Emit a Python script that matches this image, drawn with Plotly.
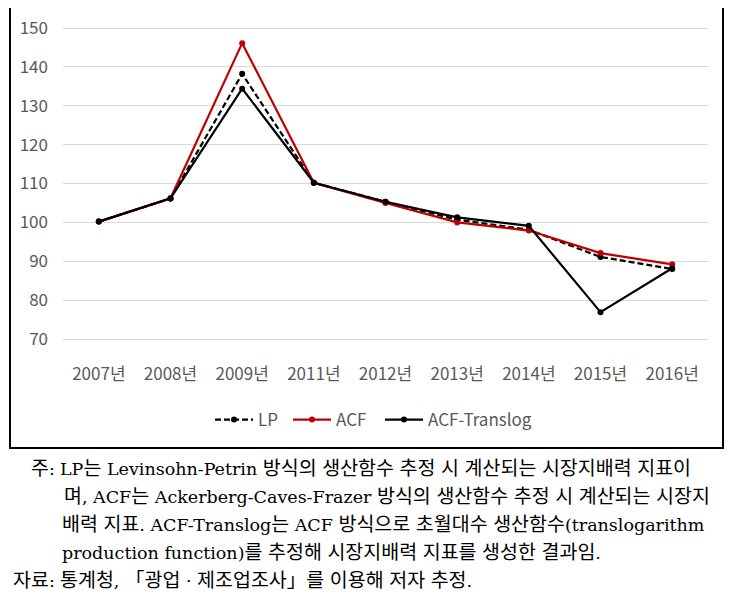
import re
import plotly.graph_objects as go

years = ["2007년", "2008년", "2009년", "2011년", "2012년", "2013년", "2014년", "2015년", "2016년"]
lp = [100.2, 106.1, 138.2, 110.2, 105.3, 100.7, 98.1, 91.1, 88.0]
acf = [100.2, 106.2, 146.1, 110.2, 105.0, 100.0, 97.9, 92.1, 89.2]
translog = [100.2, 106.2, 134.4, 110.2, 105.3, 101.3, 99.1, 76.9, 88.2]
y_ticks = [70, 80, 90, 100, 110, 120, 130, 140, 150]

note_label = "주:"
note_lines = [
    "LP는 Levinsohn-Petrin 방식의 생산함수 추정 시 계산되는 시장지배력 지표이",
    "며, ACF는 Ackerberg-Caves-Frazer 방식의 생산함수 추정 시 계산되는 시장지",
    "배력 지표. ACF-Translog는 ACF 방식으로 초월대수 생산함수(translogarithm",
    "production function)를 추정해 시장지배력 지표를 생성한 결과임.",
]
source_label = "자료:"
source_text = "통계청, 「광업 · 제조업조사」를 이용해 저자 추정."

OFF = 8  # page body margin
WIN_W, WIN_H = 735, 605
W, H = WIN_W - OFF, WIN_H - OFF
# plot area in window pixel coordinates
PL, PR, PT, PB = 63, 708, 18, 362
ML, MR, MT, MB = PL - OFF, W - (PR - OFF), PT - OFF, H - (PB - OFF)
PW, PH = PR - PL, PB - PT


def px(x):
    return (x - PL) / PW


def py(y):
    return (PB - y) / PH


GRAY = "#595959"
FONT = "Noto Sans CJK KR, Noto Sans, sans-serif"

fig = go.Figure()
fig.add_trace(go.Scatter(x=years, y=lp, name="LP", mode="lines+markers", legend="legend",
                         line=dict(color="black", width=2.2, dash="6px,3px"),
                         marker=dict(size=6, color="black")))
fig.add_trace(go.Scatter(x=years, y=acf, name="ACF", mode="lines+markers", legend="legend2",
                         line=dict(color="#C00000", width=2.2),
                         marker=dict(size=6, color="#C00000")))
fig.add_trace(go.Scatter(x=years, y=translog, name="ACF-Translog", mode="lines+markers",
                         legend="legend3",
                         line=dict(color="black", width=2.2),
                         marker=dict(size=6, color="black")))

leg_common = dict(orientation="h", yanchor="middle", xanchor="left", y=py(420),
                  font=dict(size=17, color=GRAY, family=FONT), itemwidth=38,
                  bgcolor="rgba(0,0,0,0)", borderwidth=0)

# y range derived from pixel layout: 150 at y=28, 70 at y=339
ppu = (339 - 28) / 80.0
ymax = 150 + (28 - PT) / ppu
ymin = 70 - (PB - 339) / ppu

fig.update_layout(
    width=W, height=H,
    margin=dict(l=ML, r=MR, t=MT, b=MB, autoexpand=False),
    paper_bgcolor="white", plot_bgcolor="white",
    font=dict(family=FONT, size=17, color=GRAY),
    showlegend=True,
    legend=dict(x=px(210), **leg_common),
    legend2=dict(x=px(288), **leg_common),
    legend3=dict(x=px(380), **leg_common),
    xaxis=dict(type="category", range=[-0.5, 8.5], showgrid=False, zeroline=False,
               showline=False, ticks="", tickfont=dict(size=17, color=GRAY)),
    yaxis=dict(range=[ymin, ymax], tickvals=y_ticks,
               showgrid=True, gridcolor="#D9D9D9", gridwidth=1, zeroline=False,
               showline=False, ticks="", ticklabelstandoff=14,
               tickfont=dict(size=17, color=GRAY)),
)

fig.add_shape(type="rect", xref="paper", yref="paper",
              x0=px(10), x1=px(723), y0=py(448), y1=py(5),
              line=dict(color="black", width=2), fillcolor="rgba(0,0,0,0)", layer="below")

HANGUL = re.compile(r"([\uac00-\ud7a3\u300c\u300d]+)")


def styled(t):
    return HANGUL.sub(r'<span style="font-size:19.5px">\1</span>', t)


NOTE_FONT = dict(family="DejaVu Serif, Noto Sans CJK KR, serif", size=17.5, color="black")
line_ys = [468, 496, 524, 552]
line_xs = [58, 62, 60, 60]
fig.add_annotation(xref="paper", yref="paper", x=px(57), y=py(468), text=styled(note_label),
                   showarrow=False, xanchor="right", yanchor="middle", font=NOTE_FONT)
for t, xx, yy in zip(note_lines, line_xs, line_ys):
    fig.add_annotation(xref="paper", yref="paper", x=px(xx), y=py(yy), text=styled(t),
                       showarrow=False, xanchor="left", yanchor="middle", font=NOTE_FONT)
fig.add_annotation(xref="paper", yref="paper", x=px(57), y=py(580), text=styled(source_label),
                   showarrow=False, xanchor="right", yanchor="middle", font=NOTE_FONT)
fig.add_annotation(xref="paper", yref="paper", x=px(58), y=py(580), text=styled(source_text),
                   showarrow=False, xanchor="left", yanchor="middle", font=NOTE_FONT)

fig.write_html("out.html")
